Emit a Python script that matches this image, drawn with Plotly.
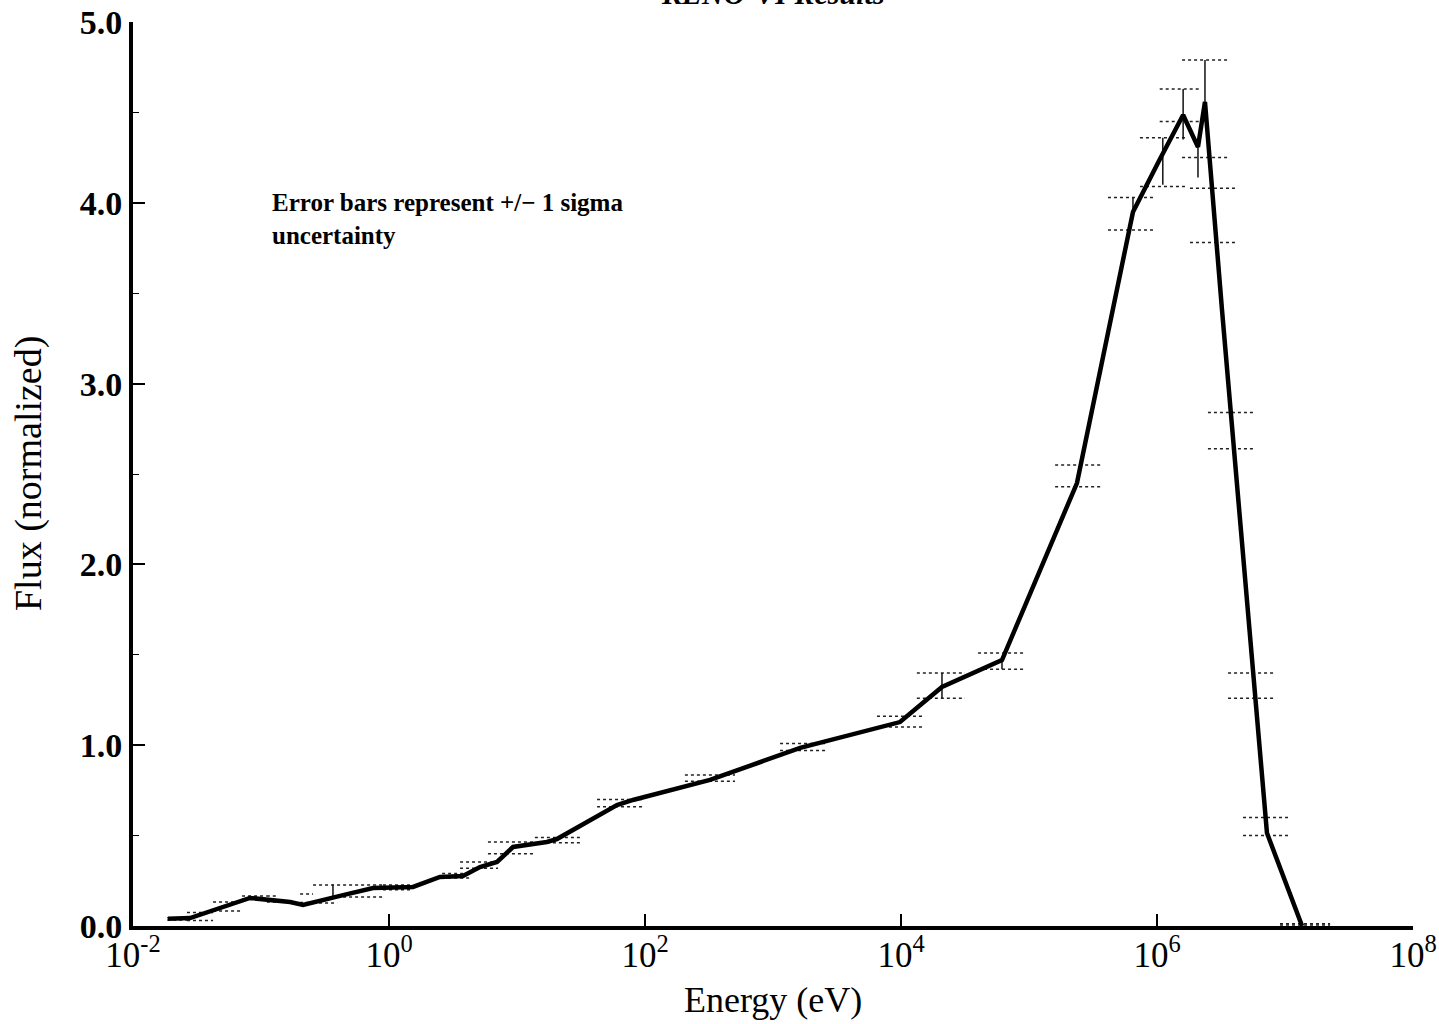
import plotly.graph_objects as go

# ---- curve data (energy in eV, normalized flux) ----
energy = [0.01875, 0.0279, 0.082, 0.111, 0.169, 0.213, 0.346, 0.438, 0.75, 1.54,
          2.50, 3.78, 5.14, 6.98, 9.31, 17.1, 20.5, 60.4, 80.5, 322,
          1630, 4000, 9820, 20900, 61500, 2.37e5, 6.49e5, 1.05e6, 1.60e6, 2.09e6,
          2.37e6, 3.22e6, 4.45e6, 5.73e6, 7.23e6, 1.36e7]
flux = [0.040, 0.044, 0.155, 0.144, 0.133, 0.116, 0.149, 0.171, 0.210, 0.216,
        0.271, 0.277, 0.326, 0.354, 0.437, 0.465, 0.481, 0.669, 0.697, 0.808,
        0.985, 1.056, 1.128, 1.322, 1.471, 2.450, 3.949, 4.240, 4.486, 4.309,
        4.558, 3.407, 2.246, 1.327, 0.514, 0.0]

# ---- +/- 1 sigma bands per energy bin ----
eb_e_lo = [0.0185, 0.0264, 0.0422, 0.0711, 0.111, 0.202, 0.255, 0.393, 0.898, 2.60,
           3.59, 5.93, 13.8, 42.2, 205, 1135, 6490, 13300, 40000, 1.60e5,
           4.14e5, 7.36e5, 1.05e6, 1.57e6, 1.81e6, 2.50e6, 3.59e6, 4.70e6, 9.14e6]
eb_e_hi = [0.0264, 0.0422, 0.0711, 0.111, 0.133, 0.255, 0.393, 0.898, 1.46, 4.30,
           7.11, 13.8, 31.0, 100, 505, 2690, 15400, 31600, 93100, 3.78e5,
           9.64e5, 1.66e6, 2.17e6, 3.72e6, 4.22e6, 5.83e6, 8.36e6, 1.09e7, 2.25e7]
eb_low = [0.033, 0.030, 0.083, 0.150, 0.133, 0.130, 0.127, 0.160, 0.200, 0.265,
          0.320, 0.400, 0.460, 0.660, 0.800, 0.970, 1.100, 1.260, 1.420, 2.430,
          3.850, 4.090, 4.450, 4.250, 3.780, 2.640, 1.260, 0.500, 0.005]
eb_high = [0.045, 0.075, 0.133, 0.166, 0.166, 0.177, 0.227, 0.227, 0.227, 0.290,
           0.354, 0.465, 0.490, 0.700, 0.835, 1.010, 1.160, 1.400, 1.510, 2.550,
           4.030, 4.360, 4.630, 4.790, 4.080, 2.840, 1.400, 0.600, 0.012]

# vertical error segments
v_e = [0.365, 61500, 20900, 6.49e5, 1.11e6, 1.60e6, 2.09e6, 2.37e6]
v_lo = [0.15, 1.42, 1.26, 3.95, 4.10, 4.35, 4.14, 4.53]
v_hi = [0.23, 1.47, 1.40, 4.03, 4.36, 4.63, 4.35, 4.79]

x_tickvals = [1e-2, 1e0, 1e2, 1e4, 1e6, 1e8]
x_ticktext = ["10<sup>-2</sup>", "10<sup>0</sup>", "10<sup>2</sup>",
              "10<sup>4</sup>", "10<sup>6</sup>", "10<sup>8</sup>"]

serif = "Liberation Serif"

# build dotted band segments
hx, hy = [], []
for lo_e, hi_e, lo, hi in zip(eb_e_lo, eb_e_hi, eb_low, eb_high):
    hx += [lo_e, hi_e, None, lo_e, hi_e, None]
    hy += [lo, lo, None, hi, hi, None]
vx, vy = [], []
for e, lo, hi in zip(v_e, v_lo, v_hi):
    vx += [e, e, None]
    vy += [lo, hi, None]

fig = go.Figure()
fig.add_trace(go.Scatter(x=hx, y=hy, mode="lines",
                         line=dict(color="#222222", width=1.5, dash="dot"),
                         hoverinfo="skip", showlegend=False))
fig.add_trace(go.Scatter(x=vx, y=vy, mode="lines",
                         line=dict(color="#111111", width=1.5),
                         hoverinfo="skip", showlegend=False))
fig.add_trace(go.Scatter(x=energy, y=flux, mode="lines",
                         line=dict(color="black", width=4.5),
                         showlegend=False))

fig.update_layout(
    width=1439, height=1024,
    margin=dict(l=133, r=26, t=22, b=98, autoexpand=False),
    paper_bgcolor="white", plot_bgcolor="white",
    font=dict(family=serif, color="black"),
    xaxis=dict(type="log", range=[-2, 8], showgrid=False, zeroline=False,
               automargin=False, ticklabeloverflow="allow", ticklabelstandoff=-5,
               showline=True, linecolor="black", linewidth=4,
               ticks="inside", ticklen=12, tickwidth=2, tickcolor="black",
               tickvals=x_tickvals, ticktext=x_ticktext,
               tickfont=dict(family=serif, size=35, color="black")),
    yaxis=dict(range=[0, 5], showgrid=False, zeroline=False,
               automargin=False, ticklabeloverflow="allow",
               showline=True, linecolor="black", linewidth=4,
               ticks="inside", ticklen=12, tickwidth=2, tickcolor="black",
               dtick=1, tickformat=".1f",
               minor=dict(dtick=0.5, ticks="inside", ticklen=6, tickwidth=1, tickcolor="black"),
               tickfont=dict(family=serif, size=34, color="black", weight="bold")),
    annotations=[
        dict(text="Error bars represent +/\u2212 1 sigma<br>uncertainty",
             xref="paper", yref="paper", x=0.107, y=0.818,
             xanchor="left", yanchor="top", align="left", showarrow=False,
             font=dict(family=serif, size=25, color="black", weight="bold")),
        dict(text="Energy (eV)", xref="paper", yref="paper", x=0.5, y=-0.082,
             xanchor="center", yanchor="middle", showarrow=False,
             font=dict(family=serif, size=36, color="black")),
        dict(text="Flux (normalized)", xref="paper", yref="paper", x=-0.082, y=0.5,
             xanchor="center", yanchor="middle", textangle=-90, showarrow=False,
             font=dict(family=serif, size=38, color="black")),
        dict(text="<i>KENO-VI Results</i>", xref="paper", yref="paper", x=0.5, y=1.031,
             xanchor="center", yanchor="middle", showarrow=False,
             font=dict(family=serif, size=30, color="black", weight="bold")),
    ],
)

fig.write_html("out.html", config={"displayModeBar": False},
               post_script="document.body.style.margin='0';document.body.style.overflow='hidden';")
